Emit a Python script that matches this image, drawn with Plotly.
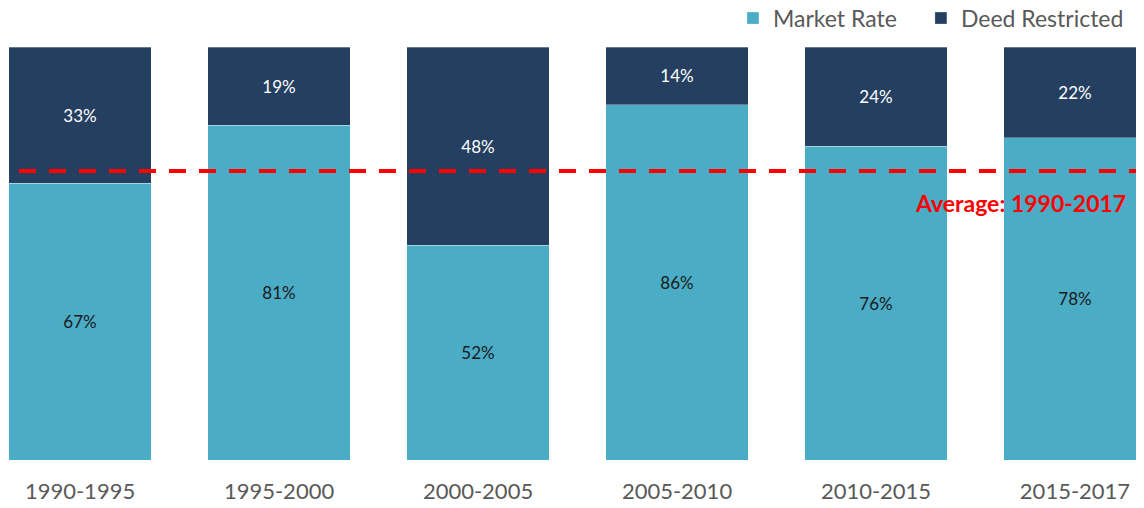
import plotly.graph_objects as go

periods = ["1990-1995", "1995-2000", "2000-2005", "2005-2010", "2010-2015", "2015-2017"]
market_rate = [67, 81, 52, 86, 76, 78]
deed_restricted = [33, 19, 48, 14, 24, 22]
average_market_rate = 70  # dashed line level (market-rate share, 1990-2017)
average_label = "Average: 1990-2017"

FONT = "Lato, 'Open Sans', sans-serif"
C_MARKET = "#4BACC6"
C_DEED = "#243F60"
GREY = "#595959"

fig = go.Figure()
fig.add_trace(go.Bar(
    x=periods, y=market_rate, name="Market Rate", legend="legend", showlegend=True,
    marker=dict(color=C_MARKET, line=dict(color="rgba(255,255,255,0.5)", width=0.6)),
    text=[f"{v}%" for v in market_rate], textposition="inside",
    insidetextanchor="middle", textangle=0,
    textfont=dict(family=FONT, size=17, color="#1a1a1a"),
))
fig.add_trace(go.Bar(
    x=periods, y=deed_restricted, name="Deed Restricted", legend="legend2", showlegend=True,
    marker=dict(color=C_DEED, line=dict(color="rgba(255,255,255,0.5)", width=0.6)),
    text=[f"{v}%" for v in deed_restricted], textposition="inside",
    insidetextanchor="middle", textangle=0,
    textfont=dict(family=FONT, size=17, color="white"),
))

fig.add_shape(type="line", xref="paper", yref="y",
              x0=0.0096, x1=1.0, y0=average_market_rate, y1=average_market_rate,
              line=dict(color="#FF0000", width=4, dash="17px,13px"), layer="above")
fig.add_annotation(xref="paper", yref="paper", x=0.979, y=0.622,
                   xanchor="right", yanchor="middle", showarrow=False,
                   text=f"<b>{average_label}</b>",
                   font=dict(family=FONT, size=23, color="#FF0000"))

legend_style = dict(orientation="h", xanchor="left", y=1.07, yanchor="middle",
                    font=dict(family=FONT, size=23, color=GREY),
                    itemwidth=30, bgcolor="rgba(0,0,0,0)")

fig.update_layout(
    width=1144, height=508,
    barmode="stack", bargap=0.286,
    showlegend=True,
    margin=dict(l=0, r=0, t=39, b=56, autoexpand=False),
    plot_bgcolor="white", paper_bgcolor="white",
    font=dict(family=FONT, color=GREY),
    uniformtext=dict(mode="show", minsize=10),
    legend=dict(x=0.6337, **legend_style),
    legend2=dict(x=0.798, **legend_style),
    xaxis=dict(range=[-0.362, 5.387], showgrid=False, zeroline=False, showline=False,
               ticks="", ticklabelstandoff=16, automargin=False,
               tickfont=dict(family=FONT, size=22, color=GREY)),
    yaxis=dict(range=[0, 100], visible=False, showgrid=False, zeroline=False,
               automargin=False),
)

fig.write_html("out.html")
